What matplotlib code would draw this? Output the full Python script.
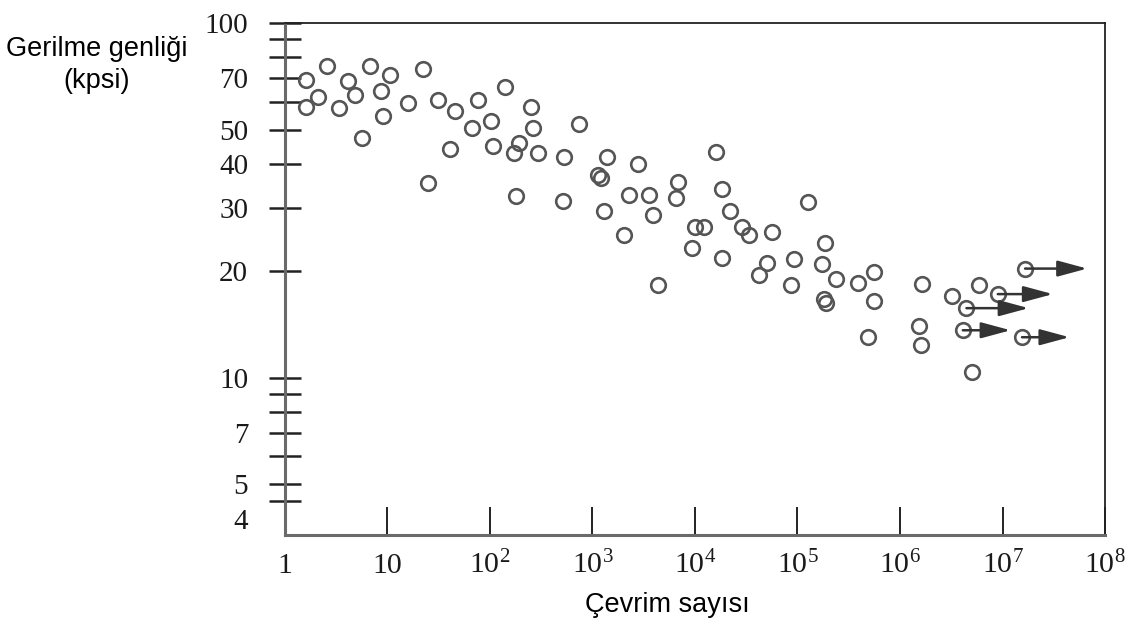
import matplotlib.pyplot as plt
from matplotlib.ticker import FixedLocator, NullLocator, NullFormatter

# S-N verileri: çevrim sayısı ve gerilme genliği (kpsi)
cycles = [1.6, 2.6, 2.1, 1.6, 4.1, 4.8, 3.4, 6.8, 10.5, 8.7,
          9.0, 5.6, 22, 16, 25, 31, 46, 41, 76, 140,
          67, 103, 107, 250, 260, 190, 173, 297, 180, 740,
          530, 1400, 1130, 1210, 2800, 520, 1300, 2250, 3600, 3900,
          6800, 6500, 15900, 18400, 21800, 2040, 9900, 12300, 28800, 33300,
          56000, 9400, 18400, 50000, 41700, 4400, 128000, 185000, 92000, 172000,
          555000, 87000, 237000, 392000, 183000, 189000, 555000, 1.65e6, 3.2e6, 5.9e6,
          489000, 1.53e6, 1.61e6, 5.07e6]
stress = [69, 75.5, 62, 58, 68.5, 62.5, 57.5, 75.5, 71.5, 64.5,
          54.5, 47.5, 74, 59.5, 35.5, 60.5, 56.5, 44, 60.5, 66,
          50.5, 53, 45, 58, 50.5, 46, 43, 43, 32.5, 52,
          42, 42, 37.3, 36.6, 40, 31.5, 29.6, 32.7, 32.7, 28.8,
          35.7, 32.1, 43.3, 34, 29.6, 25.2, 26.6, 26.6, 26.6, 25.3,
          25.7, 23.2, 21.8, 21.1, 19.5, 18.2, 31.3, 24, 21.6, 20.9,
          19.8, 18.3, 19, 18.5, 16.7, 16.2, 16.4, 18.4, 17, 18.3,
          13, 14, 12.35, 10.4]

# kırılmadan durdurulan deneyler (oklu noktalar)
runout_cycles = [9.0e6, 4.45e6, 4.1e6, 1.55e7, 1.66e7]
runout_stress = [17.2, 15.7, 13.6, 13.0, 20.3]
runout_arrow_end = [3.1e7, 1.8e7, 1.2e7, 4.5e7, 6.7e7]

x_ticks = [1, 10, 1e2, 1e3, 1e4, 1e5, 1e6, 1e7, 1e8]
x_tick_labels = ['1', '10', r'$10^{2}$', r'$10^{3}$', r'$10^{4}$',
                 r'$10^{5}$', r'$10^{6}$', r'$10^{7}$', r'$10^{8}$']
y_ticks = [4, 5, 7, 10, 20, 30, 40, 50, 70, 100]
y_tick_labels = ['4', '5', '7', '10', '20', '30', '40', '50', '70', '100']
y_minor_ticks = [4.5, 6, 8, 9, 60, 80, 90]

plt.rcParams['mathtext.fontset'] = 'custom'
plt.rcParams['mathtext.rm'] = 'Liberation Serif'
plt.rcParams['mathtext.it'] = 'Liberation Serif'

fig = plt.figure(figsize=(11.33, 6.34), dpi=100)
ax = fig.add_axes([0.2515, 0.1562, 0.7238, 0.8075])

ax.set_xscale('log')
ax.set_yscale('log')
ax.set_xlim(1, 1e8)
ax.set_ylim(3.6, 100)

circle = dict(ls='none', marker='o', mfc='none', mec='#555555', ms=10.5, mew=1.9)
ax.plot(cycles, stress, **circle)
ax.plot(runout_cycles, runout_stress, **circle)

for x0, y0, x1 in zip(runout_cycles, runout_stress, runout_arrow_end):
    ax.annotate('', xy=(x1, y0), xytext=(x0, y0),
                arrowprops=dict(arrowstyle='-|>,head_length=1.0,head_width=0.27',
                                mutation_scale=18, lw=1.8, color='#333333',
                                shrinkA=0, shrinkB=0))

# eksen çizgileri
for side in ['left', 'bottom']:
    ax.spines[side].set_color('#6a6a6a')
    ax.spines[side].set_linewidth(2.2)
for side in ['top', 'right']:
    ax.spines[side].set_color('#222222')
    ax.spines[side].set_linewidth(1.3)

ax.set_xticks(x_ticks, x_tick_labels)
ax.xaxis.set_minor_locator(NullLocator())
ax.set_yticks(y_ticks, y_tick_labels)
ax.yaxis.set_minor_locator(FixedLocator(y_minor_ticks))
ax.yaxis.set_minor_formatter(NullFormatter())

ax.tick_params(axis='y', which='both', direction='inout', length=23, width=1.8,
               color='#222222', pad=15, labelsize=21, labelcolor='#1a1a1a')
ax.tick_params(axis='x', direction='in', length=20, width=1.4, color='#222222',
               pad=27.4, labelsize=21.5, labelcolor='#1a1a1a')
for lab in ax.get_xticklabels() + ax.get_yticklabels():
    lab.set_family('Liberation Serif')
for lab in ax.get_xticklabels():
    lab.set_verticalalignment('baseline')

# 4 etiketinin çizgisi yok
ax.yaxis.get_major_ticks()[0].tick1line.set_visible(False)

fig.text(97 / 1133, 1 - 65 / 634, 'Gerilme genliği\n(kpsi)', ha='center', va='center',
         fontsize=19.5, family='Liberation Sans', linespacing=1.3)
fig.text(667 / 1133, 1 - 605 / 634, 'Çevrim sayısı', ha='center', va='center',
         fontsize=19.5, family='Liberation Sans')

fig.savefig('out.png', dpi=100)
